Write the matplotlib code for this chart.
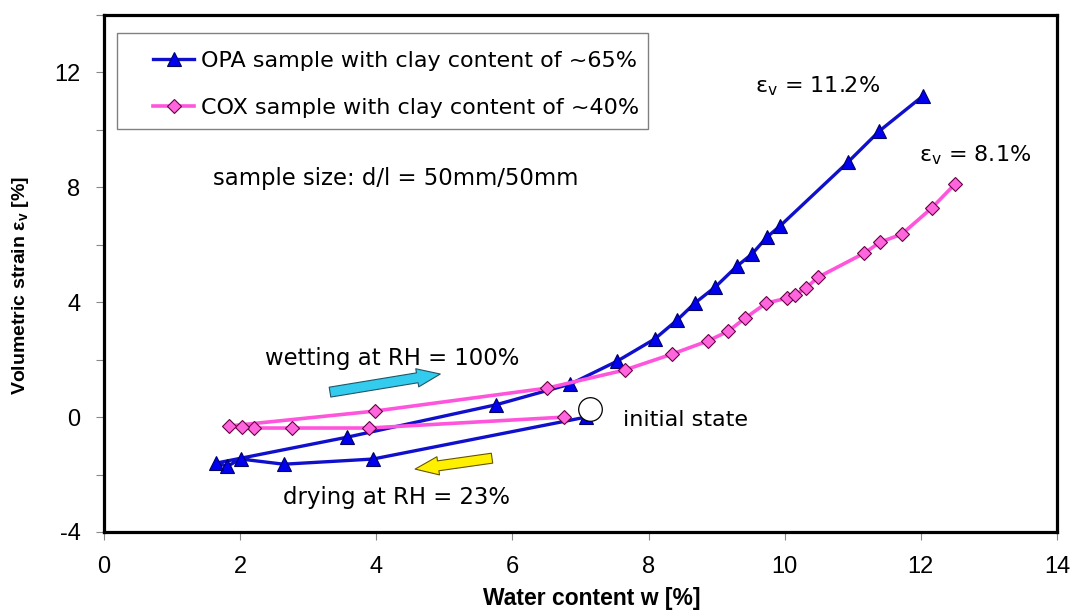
import matplotlib
matplotlib.use('Agg')
import matplotlib.pyplot as plt
from matplotlib.patches import Rectangle
from matplotlib import font_manager

# ---------------- data ----------------
opa_w = [7.08, 3.95, 2.64, 2.01, 1.81, 1.65, 3.57, 5.76, 6.85, 7.54, 8.09, 8.42,
         8.68, 8.98, 9.30, 9.52, 9.74, 9.93, 10.93, 11.39, 12.03]
opa_ev = [0.0, -1.46, -1.64, -1.46, -1.71, -1.60, -0.70, 0.43, 1.15, 1.95, 2.72, 3.38,
          3.97, 4.53, 5.26, 5.68, 6.27, 6.65, 8.88, 9.96, 11.18]

cox_w = [6.76, 3.89, 2.76, 2.20, 2.03, 1.84, 3.98, 6.51, 7.65, 8.34, 8.87, 9.17,
         9.42, 9.73, 10.03, 10.15, 10.31, 10.49, 11.17, 11.40, 11.72, 12.16, 12.50]
cox_ev = [0.0, -0.38, -0.38, -0.38, -0.35, -0.31, 0.21, 1.01, 1.64, 2.19, 2.65, 2.99,
          3.45, 3.97, 4.14, 4.25, 4.49, 4.87, 5.71, 6.09, 6.37, 7.28, 8.11]

initial_state = (7.14, 0.28)

x_ticks = [0, 2, 4, 6, 8, 10, 12, 14]
y_major = [-4, 0, 4, 8, 12]
y_minor = [-2, 2, 6, 10, 14]

opa_label = "OPA sample with clay content of ~65%"
cox_label = "COX sample with clay content of ~40%"

# ---------------- style ----------------
plt.rcParams['font.family'] = ['Liberation Sans', 'DejaVu Sans']
plt.rcParams['mathtext.fontset'] = 'custom'
plt.rcParams['mathtext.rm'] = 'DejaVu Sans'
plt.rcParams['mathtext.it'] = 'DejaVu Sans:italic'
plt.rcParams['mathtext.bf'] = 'Liberation Sans:bold'

names = {f.name for f in font_manager.fontManager.ttflist}
narrow = ['Liberation Sans Narrow', 'Liberation Sans'] if 'Liberation Sans Narrow' in names else ['Liberation Sans']
wide = ['DejaVu Sans']
txt_size = 16.4

W, H = 1074, 611
fig = plt.figure(figsize=(W / 100, H / 100), dpi=100)
L, R, T, B = 104, 1057, 15, 532
ax = fig.add_axes([L / W, 1 - B / H, (R - L) / W, (B - T) / H])

blue_line = '#1010CC'
blue_fill = '#0000EE'
pink_line = '#FF55DD'
pink_fill = '#FF66DD'

ax.plot(opa_w, opa_ev, color=blue_line, lw=2.4, marker='^', ms=10.5,
        mfc=blue_fill, mec='#000066', mew=0.8, label=opa_label, zorder=3)
ax.plot(cox_w, cox_ev, color=pink_line, lw=2.6, marker='D', ms=7.5,
        mfc=pink_fill, mec='#660044', mew=0.8, label=cox_label, zorder=3)

ax.plot([initial_state[0]], [initial_state[1]], marker='o', ms=17, mfc='white',
        mec='black', mew=0.9, ls='none', zorder=5)

ax.set_xlim(0, 14)
ax.set_ylim(-4, 14)
ax.set_xticks(x_ticks)
ax.set_xticklabels([str(v) for v in x_ticks])
ax.set_yticks(y_major)
ax.set_yticklabels([str(v) for v in y_major])
ax.set_yticks(y_minor, minor=True)

for s in ax.spines.values():
    s.set_linewidth(2.3)
    s.set_color('black')
ax.tick_params(axis='both', which='both', direction='out', length=6, width=0.8,
               color='#888888', labelsize=17)
ax.tick_params(axis='x', pad=11)
ax.tick_params(axis='y', pad=11)

# axis labels
fig.text(592 / W, 1 - 598 / H, "Water content w [%]", family=narrow, weight='bold',
         fontsize=16.5, ha='center', va='center')
fig.text(21 / W, 1 - 286 / H, r"Volumetric strain ε$_\mathbf{v}$ [%]", family=narrow,
         weight='bold', fontsize=14, ha='center', va='center', rotation=90)

# annotations
ax.text(9.56, 11.52, r"ε$_\mathregular{v}$ = 11.2%", family=wide, fontsize=16, ha='left', va='center')
ax.text(11.97, 9.12, r"ε$_\mathregular{v}$ = 8.1%", family=wide, fontsize=16, ha='left', va='center')
ax.text(1.60, 8.32, "sample size: d/l = 50mm/50mm", family=wide, fontsize=txt_size, ha='left', va='center')
ax.text(2.37, 2.05, "wetting at RH = 100%", family=wide, fontsize=txt_size, ha='left', va='center')
ax.text(7.62, -0.10, "initial state", family=wide, fontsize=16, ha='left', va='center')
ax.text(2.63, -2.79, "drying at RH = 23%", family=wide, fontsize=txt_size, ha='left', va='center')

# arrows
ax.annotate('', xy=(4.94, 1.50), xytext=(3.32, 0.87),
            arrowprops=dict(arrowstyle='simple,head_length=1.4,head_width=1.1,tail_width=0.6',
                            fc='#33CCEE', ec='#225566', lw=0.8, shrinkA=0, shrinkB=0,
                            mutation_scale=12), zorder=4)
ax.annotate('', xy=(4.57, -1.81), xytext=(5.70, -1.43),
            arrowprops=dict(arrowstyle='simple,head_length=1.4,head_width=1.1,tail_width=0.6',
                            fc='#FFF000', ec='#665500', lw=0.8, shrinkA=0, shrinkB=0,
                            mutation_scale=12), zorder=4)

# legend
fig.add_artist(Rectangle((117 / W, 1 - 129 / H), (648 - 117) / W, (129 - 33) / H,
                         transform=fig.transFigure, fill=False, ec='#808080', lw=1.0))
fig.legend(loc='upper left', bbox_to_anchor=(153 / W, 1 - 51 / H), frameon=False,
           borderpad=0, borderaxespad=0, handlelength=1.85, handletextpad=0.3,
           labelspacing=1.2, prop={'family': 'DejaVu Sans', 'size': 16})

fig.savefig('out.png', dpi=100)
